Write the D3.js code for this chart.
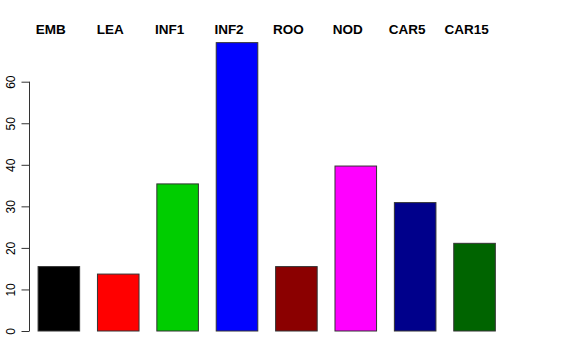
<!DOCTYPE html>
<html><head><meta charset="utf-8">
<script src="https://cdn.jsdelivr.net/npm/d3@7"></script>
<style>body{margin:0;background:#fff}svg{display:block}</style>
</head><body>
<script>
const categories = ["EMB","LEA","INF1","INF2","ROO","NOD","CAR5","CAR15"];
const values = [15.5, 13.7, 35.4, 69.4, 15.5, 39.7, 30.9, 21.1];
const colors = ["#000000","#ff0000","#00cd00","#0000ff","#8b0000","#ff00ff","#00008b","#006400"];
const yTicks = [0,10,20,30,40,50,60];

const W = 576, H = 360;
const svg = d3.select("body").append("svg").attr("width", W).attr("height", H);

const x = d3.scaleBand().domain(categories).range([26.2, 507.2]).paddingInner(0.3).paddingOuter(0.2);
const y = d3.scaleLinear().domain([0, 60]).range([331, 81.7]);

svg.selectAll("rect.bar").data(categories).enter().append("rect")
  .attr("class","bar")
  .attr("x", d => x(d))
  .attr("width", x.bandwidth())
  .attr("y", (d,i) => y(values[i]))
  .attr("height", (d,i) => y(0) - y(values[i]))
  .attr("fill", (d,i) => colors[i])
  .attr("stroke", "#333")
  .attr("stroke-width", 1);

const axis = svg.append("g").attr("transform", "translate(29.5,0)")
  .call(d3.axisLeft(y).tickValues(yTicks).tickSize(8).tickPadding(0).tickFormat(d3.format("d")));
axis.select(".domain").attr("stroke", "#333").attr("d", `M0,${y(0)}V${y(60)}`);
axis.selectAll(".tick line").attr("stroke", "#333");
axis.selectAll(".tick text")
  .attr("font-family", "Liberation Sans, Arial, sans-serif")
  .attr("font-size", 12)
  .attr("fill", "#000")
  .attr("text-anchor", "middle")
  .attr("x", 0).attr("dy", 0)
  .attr("transform", "translate(-14.5,0) rotate(-90)");

svg.selectAll("text.cat").data(categories).enter().append("text")
  .attr("class","cat")
  .attr("x", d => x(d) + x.bandwidth()/2 - 8)
  .attr("y", 34)
  .attr("text-anchor", "middle")
  .attr("font-family", "Liberation Sans, Arial, sans-serif")
  .attr("font-weight", "bold")
  .attr("font-size", 13.5)
  .text(d => d);
</script>
</body></html>
